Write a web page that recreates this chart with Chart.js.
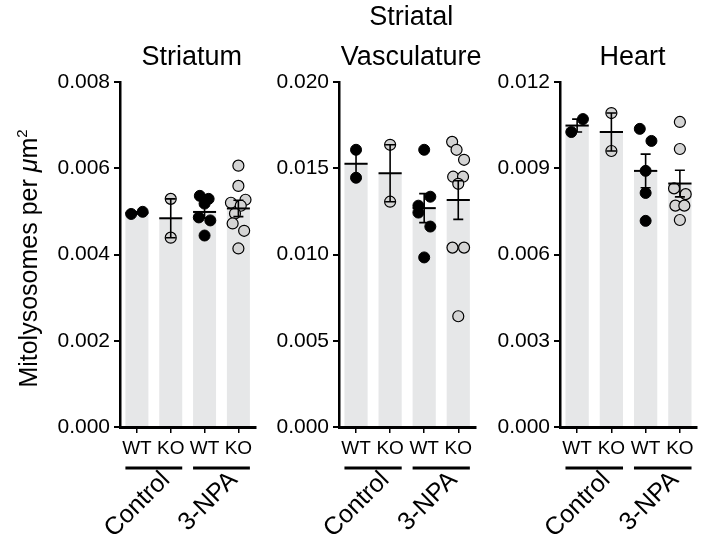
<!DOCTYPE html>
<html>
<head>
<meta charset="utf-8">
<script src="https://cdn.jsdelivr.net/npm/chart.js@4.4.1/dist/chart.umd.min.js"></script>
<style>
  html, body { margin: 0; padding: 0; background: #fff; }
  #wrap { position: relative; width: 706px; height: 542px; overflow: hidden; }
  #wrap canvas { position: absolute; top: 0; }
</style>
</head>
<body>
<div id="wrap">
  <canvas id="c0" width="262" height="542" style="left:0px"></canvas>
  <canvas id="c1" width="220" height="542" style="left:262px"></canvas>
  <canvas id="c2" width="224" height="542" style="left:482px"></canvas>
</div>
<script>
const FONT = "'Liberation Sans', Arial, sans-serif";

const genotypes = ["WT", "KO", "WT", "KO"];
const treatments = ["Control", "3-NPA"];

// Striatum, mitolysosomes per um2
const striatumWtCtrl = [0.00499, 0.00494];
const striatumKoCtrl = [0.00529, 0.00439];
const striatumWtNpa = [0.00536, 0.00529, 0.00518, 0.00486, 0.00479, 0.00444];
const striatumKoNpa = [0.00606, 0.00559, 0.00527, 0.00520, 0.00513, 0.00495, 0.00472, 0.00455, 0.00414];

// Striatal vasculature
const vascWtCtrl = [0.01607, 0.01445];
const vascKoCtrl = [0.01636, 0.01306];
const vascWtNpa = [0.01607, 0.01335, 0.01283, 0.01243, 0.01162, 0.00983];
const vascKoNpa = [0.01653, 0.01607, 0.01549, 0.01451, 0.01451, 0.01410, 0.01040, 0.01040, 0.00642];

// Heart
const heartWtCtrl = [0.01071, 0.01026];
const heartKoCtrl = [0.01092, 0.00960];
const heartWtNpa = [0.01037, 0.00995, 0.00891, 0.00814, 0.00717];
const heartKoNpa = [0.01061, 0.00967, 0.00830, 0.00810, 0.00770, 0.00770, 0.00720];

// sideways spread of the dots, in category widths (same order as the values)
const striatumJitter = [
  [0.17, -0.17], [0, 0],
  [-0.14, 0.12, 0, -0.17, 0.17, 0],
  [0, 0, 0.21, -0.22, 0.07, -0.1, -0.17, 0.17, 0]
];
const vascJitter = [
  [0, 0], [0, 0],
  [0, 0.18, -0.17, -0.17, 0.18, 0],
  [-0.18, -0.05, 0.17, -0.15, 0.14, 0, -0.17, 0.17, 0]
];
const heartJitter = [
  [0.17, -0.17], [0, 0],
  [-0.17, 0.17, 0, 0, 0],
  [0, 0, -0.17, 0.17, -0.13, 0.13, 0]
];

const panels = [
  { id: "c0", title: ["Striatum"], max: 0.008, step: 0.002, yWidth: 120, padRight: 4,
    groups: [striatumWtCtrl, striatumKoCtrl, striatumWtNpa, striatumKoNpa], jitter: striatumJitter, yTitle: true },
  { id: "c1", title: ["Striatal", "Vasculature"], max: 0.020, step: 0.005, yWidth: 77, padRight: 6,
    groups: [vascWtCtrl, vascKoCtrl, vascWtNpa, vascKoNpa], jitter: vascJitter, yTitle: false },
  { id: "c2", title: ["Heart"], max: 0.012, step: 0.003, yWidth: 78, padRight: 9,
    groups: [heartWtCtrl, heartKoCtrl, heartWtNpa, heartKoNpa], jitter: heartJitter, yTitle: false }
];

function mean(a) { return a.reduce((s, v) => s + v, 0) / a.length; }
function sem(a) {
  const m = mean(a);
  const sd = Math.sqrt(a.reduce((s, v) => s + (v - m) * (v - m), 0) / (a.length - 1));
  return sd / Math.sqrt(a.length);
}

function dots(panel, which) {
  const out = [];
  panel.groups.forEach((vals, i) => {
    if (genotypes[i] !== which) return;
    vals.forEach((v, k) => out.push({ x: i + panel.jitter[i][k], y: v }));
  });
  return out;
}

function makeChart(panel) {
  // mean line + SEM whiskers on top of the dots
  const errorBars = {
    id: "errorBars",
    afterDatasetsDraw(chart) {
      const ctx = chart.ctx, y = chart.scales.y;
      const bars = chart.getDatasetMeta(0).data;
      ctx.save();
      ctx.strokeStyle = "#000";
      panel.groups.forEach((vals, i) => {
        const cx = bars[i].x, half = bars[i].width / 2;
        const m = mean(vals), e = sem(vals);
        const yHi = y.getPixelForValue(m + e), yLo = y.getPixelForValue(m - e), yM = y.getPixelForValue(m);
        ctx.lineWidth = 1.6;
        ctx.beginPath();
        ctx.moveTo(cx, yHi); ctx.lineTo(cx, yLo);
        ctx.moveTo(cx - 5, yHi); ctx.lineTo(cx + 5, yHi);
        ctx.moveTo(cx - 5, yLo); ctx.lineTo(cx + 5, yLo);
        ctx.stroke();
        ctx.lineWidth = 2;
        ctx.beginPath();
        ctx.moveTo(cx - half, yM); ctx.lineTo(cx + half, yM);
        ctx.stroke();
      });
      ctx.restore();
    }
  };

  const decorations = {
    id: "decorations",
    afterDraw(chart) {
      const ctx = chart.ctx, area = chart.chartArea;
      const bars = chart.getDatasetMeta(0).data;
      ctx.save();
      ctx.fillStyle = "#000";
      ctx.strokeStyle = "#000";

      // panel title
      ctx.font = "27px " + FONT;
      ctx.textAlign = "center";
      ctx.textBaseline = "middle";
      const tx = (area.left + area.right) / 2 + 4;
      panel.title.forEach((t, k) => {
        ctx.fillText(t, tx, area.top - 24 - (panel.title.length - 1 - k) * 40);
      });

      // treatment bars and slanted labels
      const lineY = area.bottom + 41;
      treatments.forEach((t, g) => {
        const a = bars[2 * g], b = bars[2 * g + 1];
        const x0 = a.x - a.width / 2, x1 = b.x + b.width / 2;
        ctx.lineWidth = 3;
        ctx.beginPath();
        ctx.moveTo(x0, lineY); ctx.lineTo(x1, lineY);
        ctx.stroke();
        ctx.save();
        ctx.translate((x0 + x1) / 2 + 17, lineY + 13);
        ctx.rotate(-Math.PI / 4);
        ctx.font = "25px " + FONT;
        ctx.textAlign = "right";
        ctx.textBaseline = "alphabetic";
        ctx.fillText(t, 0, 0);
        ctx.restore();
      });

      // y axis title with italic mu and superscript 2
      if (panel.yTitle) {
        const parts = [
          { t: "Mitolysosomes per ", f: "25px " + FONT, dy: 0 },
          { t: "\u03bc", f: "italic 25px " + FONT, dy: 0 },
          { t: "m", f: "25px " + FONT, dy: 0 },
          { t: "2", f: "15px " + FONT, dy: -10 }
        ];
        let total = 0;
        parts.forEach(p => { ctx.font = p.f; p.w = ctx.measureText(p.t).width; total += p.w; });
        ctx.save();
        ctx.translate(37, (area.top + area.bottom) / 2 + 4);
        ctx.rotate(-Math.PI / 2);
        ctx.textAlign = "left";
        ctx.textBaseline = "alphabetic";
        let px = -total / 2;
        parts.forEach(p => { ctx.font = p.f; ctx.fillText(p.t, px, p.dy); px += p.w; });
        ctx.restore();
      }
      ctx.restore();
    }
  };

  return new Chart(document.getElementById(panel.id), {
    type: "bar",
    data: {
      datasets: [
        {
          type: "bar",
          data: panel.groups.map((vals, i) => ({ x: i, y: mean(vals) })),
          backgroundColor: "#e6e7e8",
          borderWidth: 0,
          grouped: false,
          categoryPercentage: 1,
          barPercentage: 0.68,
          order: 2
        },
        {
          type: "scatter",
          data: dots(panel, "WT"),
          backgroundColor: "#000",
          borderColor: "#000",
          pointRadius: 5.5,
          borderWidth: 1,
          order: 1
        },
        {
          type: "scatter",
          data: dots(panel, "KO"),
          backgroundColor: "#d4d4d4",
          borderColor: "#000",
          pointRadius: 5.5,
          borderWidth: 1.2,
          order: 1
        }
      ]
    },
    options: {
      responsive: false,
      animation: false,
      events: [],
      layout: { padding: { top: 82, right: panel.padRight, bottom: 0, left: 0 } },
      plugins: { legend: { display: false }, tooltip: { enabled: false }, title: { display: false } },
      scales: {
        x: {
          type: "linear",
          min: -0.5,
          max: 3.5,
          offset: false,
          afterBuildTicks(s) { s.ticks = genotypes.map((g, i) => ({ value: i })); },
          grid: { display: true, drawOnChartArea: false, offset: false, tickLength: 6, color: "#000", lineWidth: 1.5 },
          border: { display: true, color: "#000", width: 3 },
          ticks: {
            color: "#000", font: { family: FONT, size: 19 }, padding: 4, maxRotation: 0, autoSkip: false,
            callback: v => genotypes[v]
          },
          afterFit(s) { s.height = 115; }
        },
        y: {
          min: 0,
          max: panel.max,
          grid: { drawOnChartArea: false, tickLength: 6, color: "#000", lineWidth: 2 },
          border: { display: true, color: "#000", width: 2.5 },
          ticks: {
            stepSize: panel.step,
            color: "#000",
            font: { family: FONT, size: 21 },
            padding: 4,
            callback: v => v.toFixed(3)
          },
          afterFit(s) { s.width = panel.yWidth; }
        }
      }
    },
    plugins: [errorBars, decorations]
  });
}

panels.forEach(makeChart);
</script>
</body>
</html>
